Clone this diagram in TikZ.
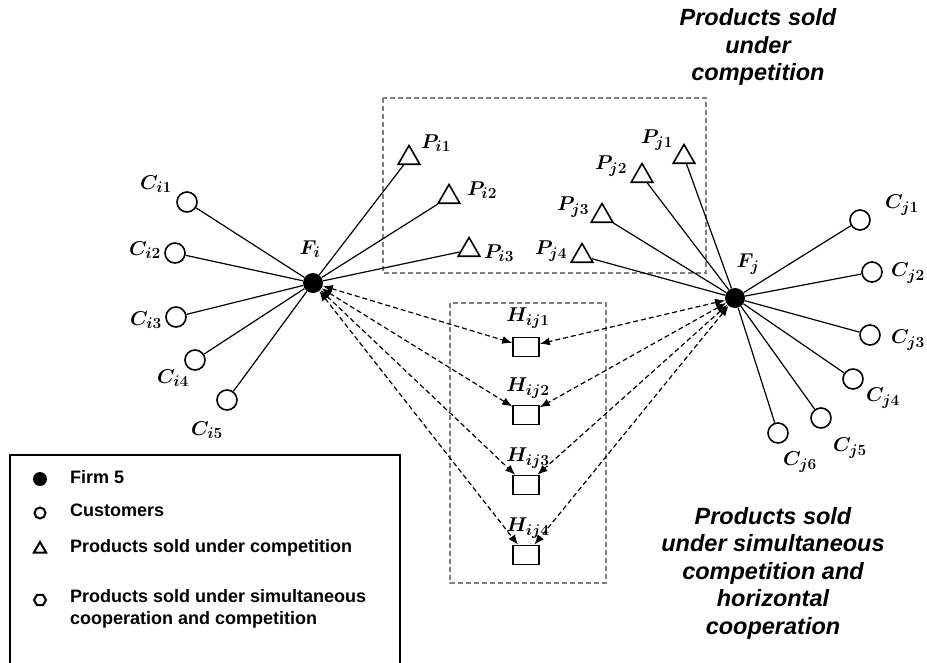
\documentclass[tikz,border=0pt]{standalone}
\usepackage{fix-cm}
\usepackage{fontspec}
\setsansfont{Liberation Sans}
\DeclareMathSizes{20}{20}{15.5}{12}
\usetikzlibrary{shapes.geometric, arrows.meta}

\begin{document}
\begin{tikzpicture}[x=1pt, y=-1pt,
  every node/.style={inner sep=0pt},
  firm/.style={circle, fill=black, minimum size=20pt},
  cust/.style={circle, draw, line width=1.6pt, fill=white, minimum size=20pt},
  prod/.style={regular polygon, regular polygon sides=3, draw, line width=1.6pt,
    fill=white, minimum size=25pt},
  hbox/.style={rectangle, draw, line width=1.6pt, fill=white,
    minimum width=26pt, minimum height=19pt},
  lbl/.style={font=\fontsize{20}{23}\selectfont\boldmath},
  tie/.style={line width=1.2pt},
  coop/.style={dash pattern=on 5pt off 3pt, line width=1.2pt,
    {Latex[length=10pt,width=8pt]}-{Latex[length=10pt,width=8pt]}},
  frame/.style={draw=gray, dash pattern=on 5pt off 3pt, line width=1.4pt},
  title/.style={font=\sffamily\bfseries\itshape\fontsize{23.5}{27.5}\selectfont,
    align=center},
  legtext/.style={font=\sffamily\bfseries\fontsize{18}{22}\selectfont,
    align=left, anchor=west},
]
\useasboundingbox (0,0) rectangle (927,662);

% Dashed frames
\draw[frame] (383,98) rectangle (706,273);
\draw[frame] (450,303) rectangle (606,583);

% Firms
\node[firm] (fi) at (313,283) {};
\node[firm] (fj) at (735,298) {};
\node[lbl] (lfi) at (310,249) {$F_i$};
\node[lbl] (lfj) at (748,264) {$F_j$};

% Customers of firm i
\node[cust] (ci1) at (187,202) {};
\node[cust] (ci2) at (175,253) {};
\node[cust] (ci3) at (176,317) {};
\node[cust] (ci4) at (195,360) {};
\node[cust] (ci5) at (227,400) {};
\node[lbl] (lci1) at (156,184) {$C_{i1}$};
\node[lbl] (lci2) at (145,250) {$C_{i2}$};
\node[lbl] (lci3) at (146,320) {$C_{i3}$};
\node[lbl] (lci4) at (173,378) {$C_{i4}$};
\node[lbl] (lci5) at (207,430) {$C_{i5}$};

% Customers of firm j
\node[cust] (cj1) at (860,220) {};
\node[cust] (cj2) at (872,272) {};
\node[cust] (cj3) at (870,335) {};
\node[cust] (cj4) at (853,379) {};
\node[cust] (cj5) at (821,418) {};
\node[cust] (cj6) at (778,433) {};
\node[lbl] (lcj1) at (902,205) {$C_{j1}$};
\node[lbl] (lcj2) at (908,273) {$C_{j2}$};
\node[lbl] (lcj3) at (908,340) {$C_{j3}$};
\node[lbl] (lcj4) at (883,398) {$C_{j4}$};
\node[lbl] (lcj5) at (850,448) {$C_{j5}$};
\node[lbl] (lcj6) at (800,462) {$C_{j6}$};

% Products sold under competition
\node[prod] (pi1) at (409,158) {};
\node[prod] (pi2) at (449,197) {};
\node[prod] (pi3) at (469,250) {};
\node[prod] (pj1) at (684,157) {};
\node[prod] (pj2) at (642,176) {};
\node[prod] (pj3) at (602,216) {};
\node[prod] (pj4) at (582,256) {};
\node[lbl] (lpi1) at (436,143) {$P_{i1}$};
\node[lbl] (lpi2) at (482,190) {$P_{i2}$};
\node[lbl] (lpi3) at (499,253) {$P_{i3}$};
\node[lbl] (lpj1) at (657,140) {$P_{j1}$};
\node[lbl] (lpj2) at (611,166) {$P_{j2}$};
\node[lbl] (lpj3) at (573,207) {$P_{j3}$};
\node[lbl] (lpj4) at (551,251) {$P_{j4}$};

% Products sold under cooperation and competition
\node[hbox] (h1) at (526,347) {};
\node[hbox] (h2) at (526,415) {};
\node[hbox] (h3) at (526,485) {};
\node[hbox] (h4) at (526,555) {};
\node[lbl] (lh1) at (528,318) {$H_{ij1}$};
\node[lbl] (lh2) at (528,388) {$H_{ij2}$};
\node[lbl] (lh3) at (528,458) {$H_{ij3}$};
\node[lbl] (lh4) at (528,528) {$H_{ij4}$};

% Ties of firm i
\draw[tie] (fi) -- (ci1);
\draw[tie] (fi) -- (ci2);
\draw[tie] (fi) -- (ci3);
\draw[tie] (fi) -- (ci4);
\draw[tie] (fi) -- (ci5);
\draw[tie] (fi) -- (pi1);
\draw[tie] (fi) -- (pi2);
\draw[tie] (fi) -- (pi3);

% Ties of firm j
\draw[tie] (fj) -- (cj1);
\draw[tie] (fj) -- (cj2);
\draw[tie] (fj) -- (cj3);
\draw[tie] (fj) -- (cj4);
\draw[tie] (fj) -- (cj5);
\draw[tie] (fj) -- (cj6);
\draw[tie] (fj) -- (pj1);
\draw[tie] (fj) -- (pj2);
\draw[tie] (fj) -- (pj3);
\draw[tie] (fj) -- (pj4);

% Cooperation links
\draw[coop] (fi) -- (h1);
\draw[coop] (fi) -- (h2);
\draw[coop] (fi) -- (h3);
\draw[coop] (fi) -- (h4);
\draw[coop] (fj) -- (h1);
\draw[coop] (fj) -- (h2);
\draw[coop] (fj) -- (h3);
\draw[coop] (fj) -- (h4);

% Titles
\node[title] (tcomp) at (758,47) {Products sold\\under\\competition};
\node[title] (tcoop) at (773,573) {Products sold\\under simultaneous\\competition and\\horizontal\\cooperation};

% Legend
\draw[line width=1.4pt] (10,670) -- (10,455) -- (400,455) -- (400,670);
\node[circle, fill=black, minimum size=14pt] (kfirm) at (40,479) {};
\node[circle, draw, line width=2pt, minimum size=11pt] (kcust) at (40,513) {};
\node[regular polygon, regular polygon sides=3, draw, line width=2pt,
  minimum size=14pt] (kprod) at (40,549) {};
\node[regular polygon, regular polygon sides=6, draw, line width=2pt,
  minimum size=12pt] (kcoop) at (40,600) {};
\node[legtext] (tfirm) at (70,477) {Firm 5};
\node[legtext] (tcust) at (70,510) {Customers};
\node[legtext] (tprod) at (70,548) {Products sold under competition};
\node[legtext] (tcoopk) at (70,609) {Products sold under simultaneous\\cooperation and competition};

\end{tikzpicture}
\end{document}
